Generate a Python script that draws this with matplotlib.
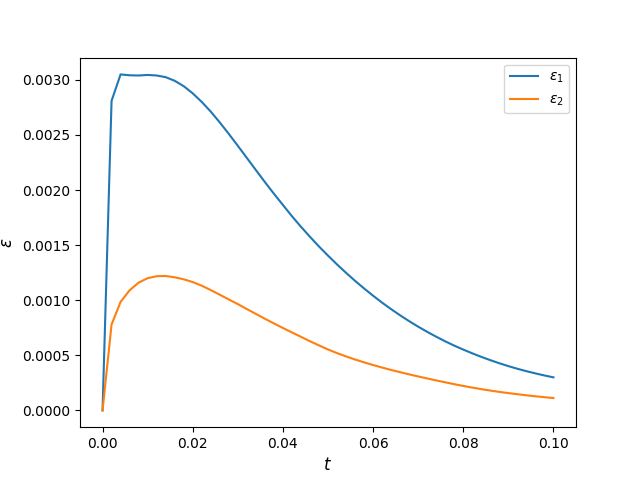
import numpy as np
import matplotlib
matplotlib.use("Agg")
import matplotlib.pyplot as plt

# time grid and the two error curves
t = np.linspace(0.0, 0.1, 51)

eps1 = [0.0, 0.00281, 0.00305, 0.003042, 0.003040, 0.003045, 0.003040,
        0.003025, 0.002992, 0.002943, 0.002878, 0.002800, 0.002712,
        0.002614, 0.002510, 0.002402, 0.002292, 0.002182, 0.002073,
        0.001967, 0.001865, 0.001763, 0.001667, 0.001576, 0.001488,
        0.001405, 0.001325, 0.001249, 0.001176, 0.001107, 0.001041,
        0.000978, 0.000919, 0.000863, 0.000810, 0.000760, 0.000713,
        0.000669, 0.000627, 0.000588, 0.000552, 0.000518, 0.000486,
        0.000456, 0.000428, 0.000402, 0.000378, 0.000356, 0.000336,
        0.000317, 0.000300]

eps2 = [0.0, 0.00078, 0.000985, 0.00109, 0.00116, 0.00120, 0.001218,
        0.00122, 0.001208, 0.00119, 0.001165, 0.001132, 0.001092,
        0.001050, 0.001007, 0.000965, 0.000920, 0.000876, 0.000832,
        0.000790, 0.000748, 0.000708, 0.000668, 0.000628, 0.000590,
        0.000553, 0.000520, 0.000490, 0.000462, 0.000436, 0.000412,
        0.000389, 0.000367, 0.000347, 0.000327, 0.000308, 0.000290,
        0.000272, 0.000255, 0.000238, 0.000222, 0.000207, 0.000193,
        0.000180, 0.000168, 0.000157, 0.000147, 0.000137, 0.000128,
        0.000120, 0.000112]

fig, ax = plt.subplots(figsize=(6.4, 4.8), dpi=100)
ax.plot(t, eps1, label=r"$\varepsilon_1$")
ax.plot(t, eps2, label=r"$\varepsilon_2$")
ax.set_xlabel(r"$t$", fontsize=12)
ax.set_ylabel(r"$\varepsilon$", fontsize=12)
ax.legend(loc="upper right")

fig.savefig("out.png", dpi=100)
